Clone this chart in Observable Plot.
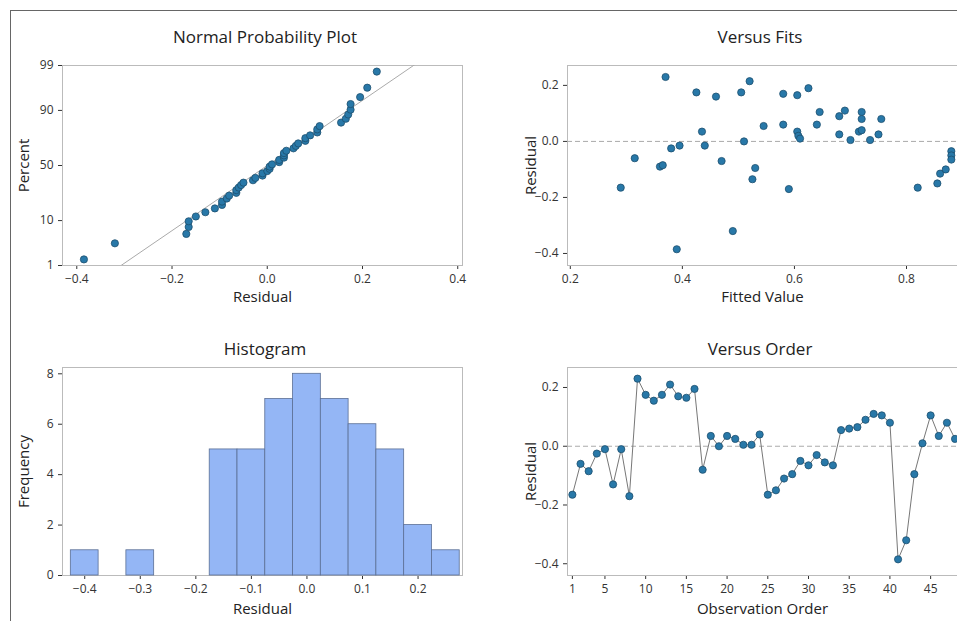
<!DOCTYPE html>
<html><head><meta charset="utf-8">
<script src="https://cdn.jsdelivr.net/npm/d3@7"></script>
<script src="https://cdn.jsdelivr.net/npm/@observablehq/plot@0.6"></script>
<style>
  body { margin: 0; background: #fff; font-family: "Open Sans", sans-serif; }
  #page { position: relative; width: 957px; height: 621px; overflow: hidden; }
  #page .border { position: absolute; left: 10px; top: 10px; width: 960px; height: 620px; border-left: 1px solid #666; border-top: 1px solid #666; }
  .panel { position: absolute; }
  .title { position: absolute; font-size: 17px; color: #222; text-align: center; }
  .panel g[aria-label="x-axis label"] text, .panel g[aria-label="y-axis label"] text { font-size: 15px; fill: #222; }
</style></head>
<body>
<div id="page"><div class="border"></div></div>
<script>
// residuals in observation order
const obsResiduals = [-0.165, -0.06, -0.085, -0.025, -0.01, -0.13, -0.01, -0.17, 0.23, 0.175,
  0.155, 0.175, 0.21, 0.17, 0.165, 0.195, -0.08, 0.035, 0.0, 0.035,
  0.025, 0.005, 0.005, 0.04, -0.165, -0.15, -0.11, -0.095, -0.05, -0.065,
  -0.03, -0.055, -0.065, 0.055, 0.06, 0.065, 0.09, 0.11, 0.105, 0.08,
  -0.385, -0.32, -0.095, 0.01, 0.105, 0.035, 0.08, 0.025];

// versus fits
const fittedValues = [0.29, 0.315, 0.36, 0.365, 0.37, 0.38, 0.39, 0.395, 0.425, 0.435, 0.44, 0.46,
  0.47, 0.49, 0.505, 0.51, 0.52, 0.525, 0.53, 0.545, 0.58, 0.58, 0.59, 0.605, 0.605, 0.607,
  0.61, 0.625, 0.64, 0.645, 0.68, 0.68, 0.69, 0.70, 0.715, 0.72, 0.72, 0.72, 0.735, 0.75,
  0.755, 0.82, 0.855, 0.86, 0.87, 0.88, 0.88, 0.88];
const fitResiduals = [-0.165, -0.06, -0.09, -0.085, 0.23, -0.025, -0.385, -0.015, 0.175, 0.035, -0.015, 0.16,
  -0.07, -0.32, 0.175, 0.0, 0.215, -0.135, -0.095, 0.055, 0.17, 0.06, -0.17, 0.165, 0.035, 0.02,
  0.01, 0.19, 0.06, 0.105, 0.09, 0.025, 0.11, 0.005, 0.035, 0.105, 0.08, 0.04, 0.005, 0.025,
  0.08, -0.165, -0.15, -0.115, -0.1, -0.035, -0.05, -0.065];

// histogram
const binStarts = [-0.425, -0.375, -0.325, -0.275, -0.225, -0.175, -0.125, -0.075, -0.025, 0.025, 0.075, 0.125, 0.175, 0.225];
const binCounts = [1, 0, 1, 0, 0, 5, 5, 7, 8, 7, 6, 5, 2, 1];
const binWidth = 0.05;

// normal plot ticks and fitted line
const pctTicks = [1, 10, 50, 90, 99];
const lineResid = [-0.32, 0.32];
const lineSd = 0.132;

const page = document.getElementById("page");
const font = { fontFamily: "'Open Sans', sans-serif", fontSize: "12px", color: "#333" };
const dot = { fill: "#2878a8", stroke: "#1d4f6e", strokeWidth: 0.8, r: 3.6 };

function cdf(z) { // Abramowitz-Stegun erf approximation
  const t = 1 / (1 + 0.3275911 * Math.abs(z) / Math.SQRT2);
  const y = 1 - (((((1.061405429 * t - 1.453152027) * t) + 1.421413741) * t - 0.284496736) * t + 0.254829592) * t * Math.exp(-z * z / 2);
  return z >= 0 ? (1 + y) / 2 : (1 - y) / 2;
}
function probit(p) { // inverse of cdf by bisection
  let lo = -6, hi = 6;
  for (let i = 0; i < 60; i++) { const m = (lo + hi) / 2; (cdf(m) < p ? lo = m : hi = m); }
  return (lo + hi) / 2;
}

function place(el, left, top) {
  const d = document.createElement("div");
  d.className = "panel"; d.style.left = left + "px"; d.style.top = top + "px";
  d.appendChild(el); page.appendChild(d);
}
function title(text, cx, top) {
  const t = document.createElement("div");
  t.className = "title"; t.textContent = text;
  t.style.left = (cx - 150) + "px"; t.style.width = "300px"; t.style.top = top + "px";
  page.appendChild(t);
}
const axisLabel = { labelAnchor: "center", labelArrow: "none" };

// Normal probability plot
const sorted = obsResiduals.slice().sort(d3.ascending);
const n = sorted.length;
const npData = sorted.map((r, i) => ({ r, z: probit((i + 1 - 0.3) / (n + 0.4)) }));
const zTicks = pctTicks.map(p => probit(p / 100));
place(Plot.plot({
  width: 470, height: 260, marginLeft: 62, marginRight: 8, marginTop: 15, marginBottom: 45,
  style: font,
  x: { domain: [-0.43, 0.41], ticks: [-0.4, -0.2, 0, 0.2, 0.4], tickFormat: d3.format(".1f"), label: "Residual", ...axisLabel, labelOffset: 36, tickSize: 4 },
  y: { domain: [zTicks[0], zTicks[4]], ticks: zTicks, tickFormat: (z) => pctTicks[zTicks.indexOf(z)], label: "Percent", ...axisLabel, labelOffset: 44, tickSize: 4 },
  marks: [
    Plot.frame({ stroke: "#bbb" }),
    Plot.line(lineResid.map(r => ({ r, z: r / lineSd })), { x: "r", y: "z", stroke: "#aaa", strokeWidth: 1, clip: true }),
    Plot.dot(npData, { x: "r", y: "z", ...dot })
  ]
}), 0, 50);
title("Normal Probability Plot", 265, 25);

// Versus fits
place(Plot.plot({
  width: 437, height: 260, marginLeft: 47, marginRight: 0, marginTop: 15, marginBottom: 45,
  style: font,
  x: { domain: [0.195, 0.891], ticks: [0.2, 0.4, 0.6, 0.8], tickFormat: d3.format(".1f"), label: "Fitted Value", ...axisLabel, labelOffset: 36, tickSize: 4 },
  y: { domain: [-0.443, 0.271], ticks: [-0.4, -0.2, 0, 0.2], tickFormat: d3.format(".1f"), label: "Residual", ...axisLabel, labelOffset: 42, tickSize: 4 },
  marks: [
    Plot.frame({ stroke: "#bbb" }),
    Plot.ruleY([0], { stroke: "#aaa", strokeDasharray: "5,3" }),
    Plot.dot(fittedValues.map((f, i) => ({ f, r: fitResiduals[i] })), { x: "f", y: "r", ...dot })
  ]
}), 520, 50);
title("Versus Fits", 760, 25);

// Histogram
place(Plot.plot({
  width: 470, height: 267, marginLeft: 62, marginRight: 8, marginTop: 15, marginBottom: 44,
  style: font,
  x: { domain: [-0.44, 0.28], ticks: [-0.4, -0.3, -0.2, -0.1, 0, 0.1, 0.2], tickFormat: d3.format(".1f"), label: "Residual", ...axisLabel, labelOffset: 38, tickSize: 4 },
  y: { domain: [0, 8.25], ticks: [0, 2, 4, 6, 8], label: "Frequency", ...axisLabel, labelOffset: 44, tickSize: 4 },
  marks: [
    Plot.frame({ stroke: "#bbb" }),
    Plot.rectY(binStarts.map((s, i) => ({ x1: s, x2: s + binWidth, c: binCounts[i] })), { x1: "x1", x2: "x2", y: "c", fill: "#94b6f5", stroke: "#5b6f95", strokeWidth: 0.8 })
  ]
}), 0, 352);
title("Histogram", 265, 337);

// Versus order
const orderData = obsResiduals.map((r, i) => ({ o: i + 1, r }));
place(Plot.plot({
  width: 437, height: 267, marginLeft: 47, marginRight: 0, marginTop: 15, marginBottom: 44,
  style: font,
  x: { domain: [0.4, 48.3], ticks: [1, 5, 10, 15, 20, 25, 30, 35, 40, 45], label: "Observation Order", ...axisLabel, labelOffset: 38, tickSize: 4 },
  y: { domain: [-0.44, 0.268], ticks: [-0.4, -0.2, 0, 0.2], tickFormat: d3.format(".1f"), label: "Residual", ...axisLabel, labelOffset: 42, tickSize: 4 },
  marks: [
    Plot.frame({ stroke: "#bbb" }),
    Plot.ruleY([0], { stroke: "#aaa", strokeDasharray: "5,3" }),
    Plot.line(orderData, { x: "o", y: "r", stroke: "#777", strokeWidth: 1 }),
    Plot.dot(orderData, { x: "o", y: "r", ...dot })
  ]
}), 520, 352);
title("Versus Order", 760, 337);
</script>
</body></html>
